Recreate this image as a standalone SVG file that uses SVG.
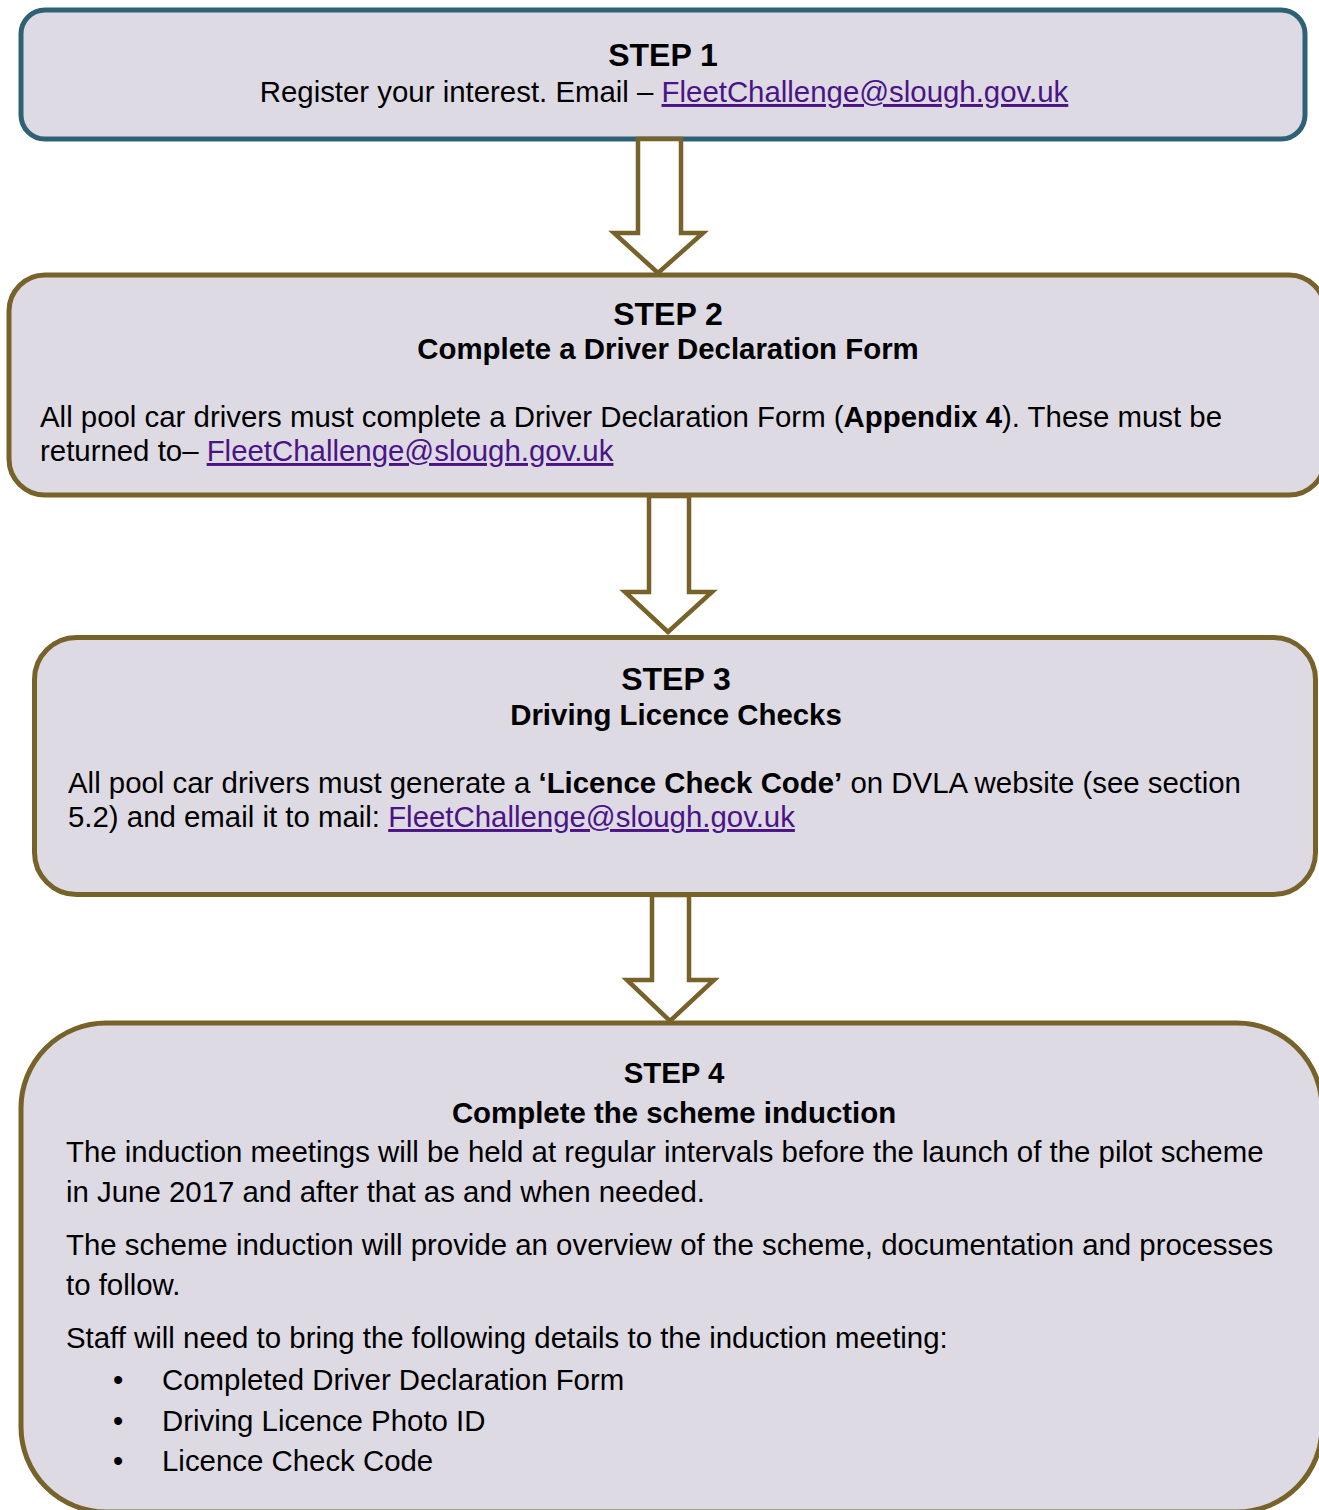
<svg xmlns="http://www.w3.org/2000/svg" width="1319" height="1510" viewBox="0 0 1319 1510">
<style>
.box{fill:#dddae4;stroke:#776229;stroke-width:5}
.box1{fill:#dddae4;stroke:#2f6174;stroke-width:5}
.arrow{fill:#ffffff;stroke:#776229;stroke-width:4.5;stroke-linejoin:miter}
text{font-family:"Liberation Sans",Arial,sans-serif;font-size:29.4px;fill:#000}
.step{font-weight:bold;font-size:32px}
.step4{font-weight:bold;font-size:29.4px}
.h{font-weight:bold}
.b{font-weight:bold}
.link{fill:#4a1486;text-decoration:underline}
.c{text-anchor:middle}
</style>
<rect width="1319" height="1510" fill="#ffffff"/>
<g id="step1">
<rect class="box1" x="21" y="10" width="1284" height="129" rx="24" ry="24"/>
<text class="step c" x="663" y="66">STEP 1</text>
<text class="c" x="664" y="102">Register your interest. Email – <tspan class="link">FleetChallenge@slough.gov.uk</tspan></text>
</g>
<g id="step2">
<rect class="box" x="9" y="275" width="1316" height="220" rx="36" ry="36"/>
<text class="step c" x="668" y="325">STEP 2</text>
<text class="h c" x="668" y="359">Complete a Driver Declaration Form</text>
<text x="40" y="427">All pool car drivers must complete a Driver Declaration Form (<tspan class="b">Appendix 4</tspan>). These must be</text>
<text x="40" y="461">returned to– <tspan class="link">FleetChallenge@slough.gov.uk</tspan></text>
</g>
<g id="step3">
<rect class="box" x="34.5" y="637.5" width="1281" height="257" rx="42" ry="42"/>
<text class="step c" x="676" y="690">STEP 3</text>
<text class="h c" x="676" y="725">Driving Licence Checks</text>
<text x="68" y="793">All pool car drivers must generate a <tspan class="b">‘Licence Check Code’</tspan> on DVLA website (see section</text>
<text x="68" y="827">5.2) and email it to mail: <tspan class="link">FleetChallenge@slough.gov.uk</tspan></text>
</g>
<g id="step4">
<rect class="box" x="21" y="1023" width="1301" height="489" rx="85" ry="85"/>
<text class="step4 c" x="674" y="1083">STEP 4</text>
<text class="h c" x="674" y="1123">Complete the scheme induction</text>
<text x="66" y="1162">The induction meetings will be held at regular intervals before the launch of the pilot scheme</text>
<text x="66" y="1202">in June 2017 and after that as and when needed.</text>
<text x="66" y="1255">The scheme induction will provide an overview of the scheme, documentation and processes</text>
<text x="66" y="1295">to follow.</text>
<text x="66" y="1348">Staff will need to bring the following details to the induction meeting:</text>
<text x="113" y="1390">•</text>
<text x="162" y="1390">Completed Driver Declaration Form</text>
<text x="113" y="1431">•</text>
<text x="162" y="1431">Driving Licence Photo ID</text>
<text x="113" y="1471">•</text>
<text x="162" y="1471">Licence Check Code</text>
</g>
<g id="connectors">
<polygon class="arrow" points="638,139 681,139 681,233 703,233 658,273 614,233 638,233"/>
<polygon class="arrow" points="649,496 689,496 689,592 712,592 668,632 625,592 649,592"/>
<polygon class="arrow" points="652,895 689,895 689,980 714,980 670,1021 627,980 652,980"/>
</g>
</svg>
